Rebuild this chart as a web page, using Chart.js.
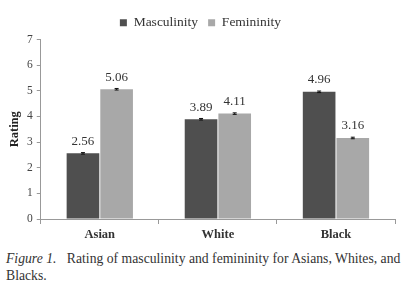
<!DOCTYPE html>
<html>
<head>
<meta charset="utf-8">
<script src="https://cdn.jsdelivr.net/npm/chart.js@4.4.1/dist/chart.umd.min.js"></script>
<style>
  body { margin: 0; background: #fff; }
  #wrap { position: relative; width: 402px; height: 245px; }
  #caption {
    font-family: "Liberation Serif", "DejaVu Serif", serif;
    font-size: 13.7px; color: #333; line-height: 17px;
    margin: 5px 0 0 6px; width: 396px;
  }
  #caption i { margin-right: 7px; }
</style>
</head>
<body>
<div id="wrap"><canvas id="chart"></canvas></div>
<div id="caption"><i>Figure 1.</i> Rating of masculinity and femininity for Asians, Whites, and Blacks.</div>
<script>
// Chart data
const groups = ['Asian', 'White', 'Black'];
const masculinity = [2.56, 3.89, 4.96];
const femininity = [5.06, 4.11, 3.16];
const masculinityErr = [0.03, 0.03, 0.03];
const femininityErr = [0.03, 0.03, 0.03];
const yTicks = [0, 1, 2, 3, 4, 5, 6, 7];

const serif = '"Liberation Serif", "DejaVu Serif", serif';

// Error bars + value labels above each bar
const barExtras = {
    id: 'barExtras',
    afterDatasetsDraw(chart) {
        const ctx = chart.ctx;
        const yScale = chart.scales.y;
        const errs = [masculinityErr, femininityErr];
        chart.data.datasets.forEach((ds, i) => {
            const meta = chart.getDatasetMeta(i);
            meta.data.forEach((bar, j) => {
                const v = ds.data[j];
                const top = yScale.getPixelForValue(v + errs[i][j]);
                const bot = yScale.getPixelForValue(v - errs[i][j]);
                ctx.save();
                ctx.strokeStyle = '#111';
                ctx.lineWidth = 1;
                ctx.beginPath();
                ctx.moveTo(bar.x, top);
                ctx.lineTo(bar.x, bot);
                ctx.moveTo(bar.x - 2, top);
                ctx.lineTo(bar.x + 2, top);
                ctx.moveTo(bar.x - 2, bot);
                ctx.lineTo(bar.x + 2, bot);
                ctx.stroke();
                ctx.fillStyle = '#333';
                ctx.font = '13px ' + serif;
                ctx.textAlign = 'center';
                ctx.textBaseline = 'middle';
                ctx.fillText(v.toFixed(2), bar.x, yScale.getPixelForValue(v) - 12);
                ctx.restore();
            });
        });
    }
};

new Chart(document.getElementById('chart'), {
    type: 'bar',
    data: {
        labels: groups,
        datasets: [
            {
                label: 'Masculinity',
                data: masculinity,
                backgroundColor: '#4f4f4f',
                barPercentage: 0.97,
                categoryPercentage: 0.57
            },
            {
                label: 'Femininity',
                data: femininity,
                backgroundColor: '#a8a8a8',
                barPercentage: 0.97,
                categoryPercentage: 0.57
            }
        ]
    },
    options: {
        responsive: true,
        maintainAspectRatio: false,
        animation: false,
        layout: { padding: { left: 6, right: 7, top: 6, bottom: 0 } },
        plugins: {
            legend: {
                display: true,
                position: 'top',
                labels: {
                    boxWidth: 7,
                    boxHeight: 7,
                    padding: 10,
                    color: '#333',
                    font: { family: serif, size: 13.5 }
                }
            },
            tooltip: { enabled: false }
        },
        scales: {
            x: {
                grid: {
                    offset: true,
                    drawOnChartArea: false,
                    tickLength: 5,
                    color: '#999'
                },
                border: { color: '#999' },
                ticks: {
                    color: '#333',
                    padding: 3,
                    font: { family: serif, size: 12.5, weight: 'bold' }
                }
            },
            y: {
                min: 0,
                max: 7,
                afterBuildTicks: function(scale) {
                    scale.ticks = yTicks.map(v => ({ value: v }));
                },
                grid: {
                    drawOnChartArea: false,
                    tickLength: 4,
                    color: '#999'
                },
                border: { color: '#999' },
                ticks: {
                    color: '#444',
                    padding: 4,
                    font: { family: serif, size: 11.5 }
                },
                title: {
                    display: true,
                    text: 'Rating',
                    color: '#222',
                    padding: 1,
                    font: { family: serif, size: 12.5, weight: 'bold' }
                }
            }
        }
    },
    plugins: [barExtras]
});
</script>
</body>
</html>
